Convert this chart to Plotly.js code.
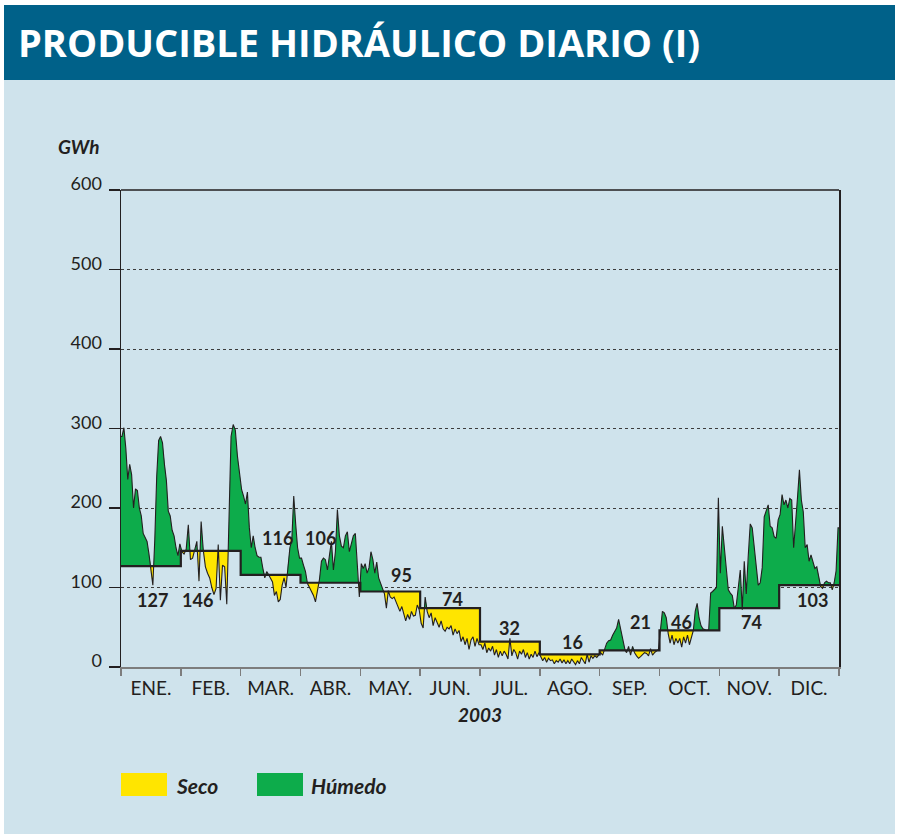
<!DOCTYPE html>
<html>
<head>
<meta charset="utf-8">
<script src="https://cdn.plot.ly/plotly-3.0.1.min.js"></script>
<style>
html,body{margin:0;padding:0;background:#ffffff;}
#chart{width:899px;height:834px;}
</style>
</head>
<body>
<div id="chart"></div>
<script>
// ---- Data (GWh) ----
const months = ['ENE.','FEB.','MAR.','ABR.','MAY.','JUN.','JUL.','AGO.','SEP.','OCT.','NOV.','DIC.'];
const monthlyAvg = [127,146,116,106,95,74,32,16,21,46,74,103];
const yearLabel = '2003';

const eneDaily = [290,301,275,236,255,242,200,224,222,200,190,168,162,158,142,118,103,160,240,285,290,282,255,235,196,190,172,165,150,140,155];
const febDaily = [145,142,148,179,135,137,147,158,108,183,147,126,118,112,100,91,99,154,84,128,126,79,180,290,305,298,265,240];
const marDaily = [223,215,205,220,175,150,165,150,140,138,138,124,112,120,116,112,107,90,95,82,85,103,112,100,130,150,160,215,180,150,137];
const abrDaily = [137,128,120,105,100,95,90,82,95,110,133,137,135,122,140,158,122,145,198,165,152,150,165,170,145,155,165,168,120,88];
const mayDaily = [130,124,130,118,125,145,135,118,132,112,105,100,92,74,96,88,86,88,82,78,70,76,66,58,66,60,70,64,65,78,72];
const junDaily = [55,49,88,70,62,68,52,62,56,50,58,48,45,50,48,52,40,48,42,46,32,38,28,36,22,34,38,26,36,28];
const julDaily = [28,22,30,18,24,20,26,15,22,12,20,14,20,16,10,36,14,22,18,10,20,16,22,12,18,10,16,12,20,13,18];
const agoDaily = [12,8,12,6,11,8,9,4,8,6,10,5,9,4,8,4,10,6,3,8,4,12,8,4,16,6,14,11,14,12,15];
const sepDaily = [18,15,22,30,33,34,40,45,49,60,48,33,22,18,26,15,26,18,14,11,13,16,18,17,14,23,15,18,20,22];
const octDaily = [48,70,68,62,42,30,40,28,36,30,36,25,38,30,40,28,38,45,70,80,62,52,48,47,46,47,93,95,98,100,213];
const novDaily = [118,177,150,115,97,93,90,74,78,100,122,72,133,92,140,180,175,150,125,103,106,125,189,196,204,177,175,164,162,185];
const dicDaily = [192,217,204,210,200,212,210,150,189,213,248,210,195,150,154,133,141,133,124,126,112,101,99,106,108,106,106,97,106,121,175];

const dailyByMonth = [eneDaily,febDaily,marDaily,abrDaily,mayDaily,junDaily,julDaily,agoDaily,sepDaily,octDaily,novDaily,dicDaily];

// ---- Build path (each month occupies one unit on the x axis) ----
const raw = [];
dailyByMonth.forEach((arr, m) => {
  const n = arr.length;
  arr.forEach((v, d) => raw.push({x: m + (d + 0.5) / n, v: v, a: monthlyAvg[m], m: m}));
});
const pts = [];
pts.push({x: 0, v: raw[0].v, a: monthlyAvg[0]});
for (let i = 0; i < raw.length; i++) {
  const p = raw[i];
  if (i > 0 && raw[i-1].m !== p.m) {
    const q = raw[i-1];
    const xb = p.m;
    const vb = q.v + (p.v - q.v) * (xb - q.x) / (p.x - q.x);
    pts.push({x: xb, v: vb, a: q.a});
    pts.push({x: xb, v: vb, a: p.a});
  }
  pts.push({x: p.x, v: p.v, a: p.a});
}
pts.push({x: 12, v: raw[raw.length-1].v, a: monthlyAvg[11]});
const full = [pts[0]];
for (let i = 1; i < pts.length; i++) {
  const q = pts[i-1], p = pts[i];
  if (q.a === p.a && q.x !== p.x) {
    const a = p.a;
    if ((q.v - a) * (p.v - a) < 0) {
      const t = (a - q.v) / (p.v - q.v);
      full.push({x: q.x + t * (p.x - q.x), v: a, a: a});
    }
  }
  full.push(p);
}
const X = full.map(p => p.x);
const V = full.map(p => p.v);
const A = full.map(p => p.a);
const UP = full.map(p => Math.max(p.v, p.a));
const LO = full.map(p => Math.min(p.v, p.a));

const stepX = [], stepY = [];
monthlyAvg.forEach((a, m) => { stepX.push(m, m + 1); stepY.push(a, a); });
const centers = months.map((_, i) => i + 0.5);

const YEL = '#ffe500', GRN = '#0dac4b', INK = '#231f20';

const traces = [
  {x: X, y: A, mode: 'lines', line: {width: 0}, hoverinfo: 'skip', showlegend: false},
  {x: X, y: UP, mode: 'lines', line: {width: 0}, fill: 'tonexty', fillcolor: GRN, name: 'Húmedo', hoverinfo: 'skip'},
  {x: X, y: A, mode: 'lines', line: {width: 0}, hoverinfo: 'skip', showlegend: false},
  {x: X, y: LO, mode: 'lines', line: {width: 0}, fill: 'tonexty', fillcolor: YEL, name: 'Seco', hoverinfo: 'skip'},
  {x: X, y: V, mode: 'lines', line: {color: INK, width: 1.1}, name: 'Diario'},
  {x: stepX, y: stepY, mode: 'lines', line: {color: INK, width: 2.2}, name: 'Media mensual'},
  {x: centers, y: monthlyAvg, mode: 'none', xaxis: 'x2', hoverinfo: 'skip', showlegend: false}
];

const labelPos = [[0.52,84],[1.28,84],[2.61,162],[3.33,162],[4.69,116],[5.54,86],[6.49,49],[7.54,32],[8.69,57],[9.37,57],[10.53,57],[11.55,84]];
const annotations = monthlyAvg.map((a, i) => ({
  x: labelPos[i][0], y: labelPos[i][1], xref: 'x', yref: 'y', text: String(a), showarrow: false,
  font: {family: 'Lato, sans-serif', size: 18, color: INK, weight: 'bold'}, xanchor: 'center', yanchor: 'middle'
}));
const PX = px => (px - 121) / 718;
const PY = py => (667 - py) / 477;
annotations.push({x: PX(78.5), y: PY(146.5), xref: 'paper', yref: 'paper', text: 'GWh', showarrow: false,
  font: {family: 'Lato, sans-serif', size: 19, color: INK, weight: 'bold', style: 'italic'}, xanchor: 'center', yanchor: 'middle'});
annotations.push({x: PX(174), y: PY(785), xref: 'paper', yref: 'paper', text: 'Seco', showarrow: false,
  font: {family: 'Lato, sans-serif', size: 21, color: INK, weight: 'bold', style: 'italic'}, xanchor: 'left', yanchor: 'middle'});
annotations.push({x: PX(309), y: PY(785), xref: 'paper', yref: 'paper', text: 'Húmedo', showarrow: false,
  font: {family: 'Lato, sans-serif', size: 21, color: INK, weight: 'bold', style: 'italic'}, xanchor: 'left', yanchor: 'middle'});

const shapes = [
  {type: 'rect', xref: 'paper', yref: 'paper', x0: PX(4), x1: PX(895), y0: PY(834), y1: PY(80), fillcolor: '#cfe3ec', line: {width: 0}, layer: 'below'},
  {type: 'rect', xref: 'paper', yref: 'paper', x0: PX(4), x1: PX(895), y0: PY(80), y1: PY(5), fillcolor: '#006189', line: {width: 0}, layer: 'below'},
  {type: 'line', xref: 'paper', yref: 'paper', x0: 0, x1: 1, y0: 1, y1: 1, line: {color: INK, width: 1.5}, layer: 'above'},
  {type: 'rect', xref: 'paper', yref: 'paper', x0: PX(121), x1: PX(167), y0: PY(796), y1: PY(773), fillcolor: YEL, line: {width: 0}},
  {type: 'rect', xref: 'paper', yref: 'paper', x0: PX(257), x1: PX(303), y0: PY(796), y1: PY(773), fillcolor: GRN, line: {width: 0}}
];

const layout = {
  width: 899, height: 834,
  margin: {l: 121, r: 60, t: 190, b: 167, pad: 0},
  paper_bgcolor: '#ffffff',
  plot_bgcolor: 'rgba(0,0,0,0)',
  showlegend: false,
  font: {family: 'Lato, sans-serif', color: INK, size: 17},
  title: {text: 'PRODUCIBLE HIDRÁULICO DIARIO (I)', xref: 'container', yref: 'container',
    x: 18/899, xanchor: 'left', y: 1 - 44/834, yanchor: 'middle',
    font: {family: '"Open Sans", sans-serif', size: 38, color: '#ffffff', weight: 'bold'}},
  xaxis: {range: [0, 12], tickvals: [0,1,2,3,4,5,6,7,8,9,10,11,12], showticklabels: false,
    ticks: 'outside', ticklen: 7, tickcolor: '#7d7d7d', tickwidth: 1.5,
    showgrid: false, zeroline: false, showline: true, linecolor: '#7d7d7d', linewidth: 2, fixedrange: true},
  xaxis2: {overlaying: 'x', anchor: 'y', side: 'bottom', range: [0, 12], tickvals: centers, ticktext: months,
    ticks: '', showgrid: false, zeroline: false, showline: false, ticklabelstandoff: 8,
    tickfont: {family: 'Lato, sans-serif', size: 19, color: INK},
    title: {text: yearLabel, standoff: 10, font: {family: 'Lato, sans-serif', size: 19, color: INK, weight: 'bold', style: 'italic'}}},
  yaxis: {range: [0, 600], tickvals: [0,100,200,300,400,500,600], ticks: 'outside', ticklen: 11, tickcolor: INK, tickwidth: 1.2,
    showgrid: true, gridcolor: '#3c3c3c', griddash: 'dot', gridwidth: 1,
    showline: true, linecolor: INK, linewidth: 1.5, mirror: true, zeroline: false,
    ticklabelstandoff: 3, ticklabelshift: -6,
    tickfont: {family: 'Lato, sans-serif', size: 18, color: INK}, fixedrange: true},
  annotations: annotations,
  shapes: shapes
};

Plotly.newPlot('chart', traces, layout, {displayModeBar: false, staticPlot: true});
</script>
</body>
</html>
